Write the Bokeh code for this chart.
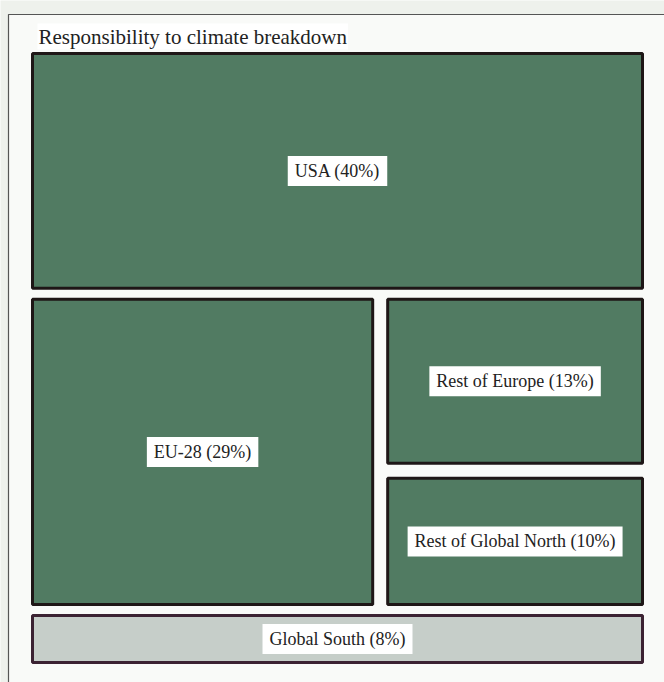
from bokeh.plotting import figure
from bokeh.models import Range1d, ColumnDataSource
from bokeh.core.properties import value
from bokeh.embed import file_html
from bokeh.resources import INLINE

# ---- data ----
title = "Responsibility to climate breakdown"
regions = ["USA", "EU-28", "Rest of Europe", "Rest of Global North", "Global South"]
shares = [40, 29, 13, 10, 8]
labels = [f"{r} ({s}%)" for r, s in zip(regions, shares)]

# ---- treemap layout (computed from the shares) ----
X0, X1, Y0, Y1 = 32, 642, 53, 662
GAP_ROW = 11
GAP_COL = 15
usa, eu, roe, rgn, gs = shares
total = sum(shares)
mid = eu + roe + rgn
avail_h = (Y1 - Y0) - 2 * GAP_ROW
h_usa = avail_h * usa / total
h_mid = avail_h * mid / total
avail_w = (X1 - X0)
w_eu = avail_w * eu / mid
avail_h2 = h_mid - GAP_COL
h_roe = avail_h2 * roe / (roe + rgn)

ym0 = Y0 + h_usa + GAP_ROW
ym1 = ym0 + h_mid
xr0 = X0 + w_eu + GAP_COL
rects = {
    "left":   [X0, X0, xr0, xr0, X0],
    "right":  [X1, X0 + w_eu, X1, X1, X1],
    "top":    [Y0, ym0, ym0, ym0 + h_roe + GAP_COL, ym1 + GAP_ROW],
    "bottom": [Y0 + h_usa, ym1, ym0 + h_roe, ym1, Y1],
}
fills = ["#517b62", "#517b62", "#517b62", "#517b62", "#c6cec9"]
lines = ["#1e1616", "#1e1616", "#1e1616", "#1e1616", "#3b2232"]

src = ColumnDataSource(dict(
    left=rects["left"], right=rects["right"], top=rects["top"], bottom=rects["bottom"],
    fill=fills, line=lines, label=labels,
    cx=[(l + r) / 2 for l, r in zip(rects["left"], rects["right"])],
    cy=[(t + b) / 2 for t, b in zip(rects["top"], rects["bottom"])],
))

W, H = 664, 682
p = figure(width=W, height=H, output_backend="svg", toolbar_location=None,
           x_range=Range1d(0, W), y_range=Range1d(H, 0), min_border=0)
p.axis.visible = False
p.grid.visible = False
p.outline_line_color = None
p.background_fill_color = "#eef1ec"
p.border_fill_color = "#eef1ec"

# outer frame
p.quad(left=[8], right=[700], top=[14], bottom=[700],
       fill_color="#f9faf8", line_color="#555555", line_width=1.2)

# title
p.text(x=[37], y=[36], text=[title], text_font=value("Liberation Serif"),
       text_font_size="21px", text_color="#222222", text_baseline="middle",
       background_fill_color="white", padding=1)

# treemap
p.quad(left="left", right="right", top="top", bottom="bottom", source=src,
       fill_color="fill", line_color="line", line_width=3)

p.text(x="cx", y="cy", text="label", source=src,
       text_font=value("Liberation Serif"), text_font_size="18px",
       text_color="#222222", text_align="center", text_baseline="middle",
       background_fill_color="white", padding=(7, 5))

open("out.html", "w").write(file_html(p, INLINE))
